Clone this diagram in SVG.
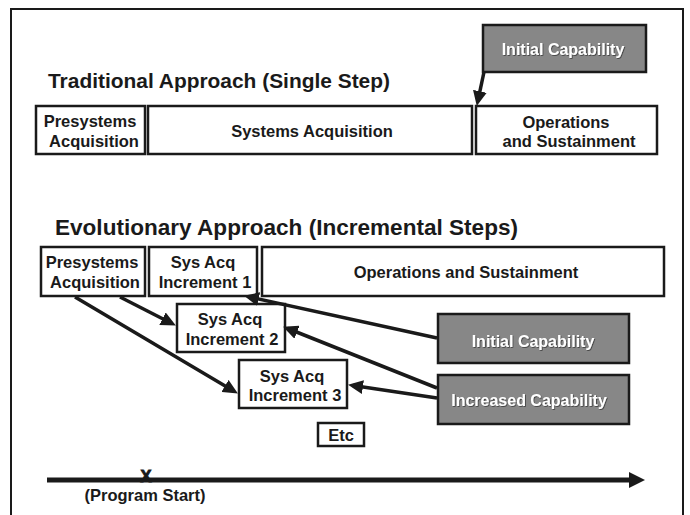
<svg xmlns="http://www.w3.org/2000/svg" width="690" height="515" viewBox="0 0 690 515">
<style>
.box{fill:#fff;stroke:#1a1a1a;stroke-width:2.5}
.gbox{fill:#878787;stroke:#1a1a1a;stroke-width:2.5}
.t{font-family:"Liberation Sans",Arial,sans-serif;font-weight:bold;fill:#1a1a1a;text-anchor:middle;font-size:16.5px}
.w{fill:#fff;font-size:16px}
.title{font-family:"Liberation Sans",Arial,sans-serif;font-weight:bold;fill:#1a1a1a}
.conn line{stroke:#1a1a1a;stroke-width:3.5;fill:none}
</style>
<defs>
<marker id="ah" markerUnits="userSpaceOnUse" markerWidth="16" markerHeight="14" viewBox="0 0 16 14" refX="10" refY="7" orient="auto">
<path d="M0,0 L15,7 L0,14 z" fill="#1a1a1a"/>
</marker>
<filter id="sh" x="-10%" y="-20%" width="120%" height="140%">
<feDropShadow dx="0.8" dy="0.8" stdDeviation="0.4" flood-color="#333" flood-opacity="0.9"/>
</filter>
</defs>
<rect width="690" height="515" fill="#fff"/>
<path d="M11,516 V9 H683 V516" fill="none" stroke="#1a1a1a" stroke-width="2"/>

<text class="title" x="48" y="88" font-size="21" textLength="342" lengthAdjust="spacingAndGlyphs">Traditional Approach (Single Step)</text>
<text class="title" x="55" y="235" font-size="22.5" textLength="463" lengthAdjust="spacingAndGlyphs">Evolutionary Approach (Incremental Steps)</text>

<g id="trad-presystems">
<rect class="box" x="36" y="106" width="109" height="48"/>
<text class="t" x="90" y="127">Presystems</text>
<text class="t" x="94" y="147">Acquisition</text>
</g>
<g id="trad-sysacq">
<rect class="box" x="148" y="106" width="324" height="48"/>
<text class="t" x="312" y="137">Systems Acquisition</text>
</g>
<g id="trad-ops">
<rect class="box" x="476" y="106" width="181" height="48"/>
<text class="t" x="566" y="128">Operations</text>
<text class="t" x="569" y="147">and Sustainment</text>
</g>
<g id="trad-initial">
<rect class="gbox" x="483" y="25" width="163" height="47"/>
<text class="t w" x="563" y="55" filter="url(#sh)">Initial Capability</text>
</g>

<g id="evo-presystems">
<rect class="box" x="41" y="247" width="104" height="49"/>
<text class="t" x="92" y="268">Presystems</text>
<text class="t" x="95" y="288">Acquisition</text>
</g>
<g id="evo-inc1">
<rect class="box" x="149" y="247" width="108" height="49"/>
<text class="t" x="203" y="268">Sys Acq</text>
<text class="t" x="205" y="288">Increment 1</text>
</g>
<g id="evo-ops">
<rect class="box" x="262" y="247" width="402" height="49"/>
<text class="t" x="466" y="278">Operations and Sustainment</text>
</g>
<g id="evo-inc2">
<rect class="box" x="177" y="304" width="108" height="48"/>
<text class="t" x="230" y="325">Sys Acq</text>
<text class="t" x="232" y="345">Increment 2</text>
</g>
<g id="evo-inc3">
<rect class="box" x="239" y="360" width="108" height="48"/>
<text class="t" x="292" y="382">Sys Acq</text>
<text class="t" x="295" y="401">Increment 3</text>
</g>
<g id="evo-etc">
<rect class="box" x="318" y="423" width="46" height="23"/>
<text class="t" x="341" y="441">Etc</text>
</g>
<g id="evo-initial">
<rect class="gbox" x="438" y="314" width="191" height="49"/>
<text class="t w" x="533" y="347" filter="url(#sh)">Initial Capability</text>
</g>
<g id="evo-increased">
<rect class="gbox" x="438" y="375" width="191" height="49"/>
<text class="t w" x="529" y="406" filter="url(#sh)">Increased Capability</text>
</g>

<g id="connectors" class="conn">
<line x1="484" y1="72" x2="477.8" y2="101.1" marker-end="url(#ah)"/>
<line x1="120" y1="297" x2="171.4" y2="323.2" marker-end="url(#ah)"/>
<line x1="75" y1="297" x2="233.6" y2="391" marker-end="url(#ah)"/>
<line x1="437" y1="338" x2="248.9" y2="296.9" marker-end="url(#ah)"/>
<line x1="437" y1="388" x2="287.7" y2="328.5" marker-end="url(#ah)"/>
<line x1="437" y1="398" x2="353" y2="385.6" marker-end="url(#ah)"/>
</g>

<g id="timeline">
<line x1="47" y1="480" x2="631" y2="480" stroke="#1a1a1a" stroke-width="5"/>
<path d="M629,472 L645,480 L629,488 z" fill="#1a1a1a"/>
<text class="t" x="146" y="482" font-size="13.5" stroke="#1a1a1a" stroke-width="0.9">X</text>
<text class="t" x="145" y="501" font-size="12.5">(Program Start)</text>
</g>
</svg>
